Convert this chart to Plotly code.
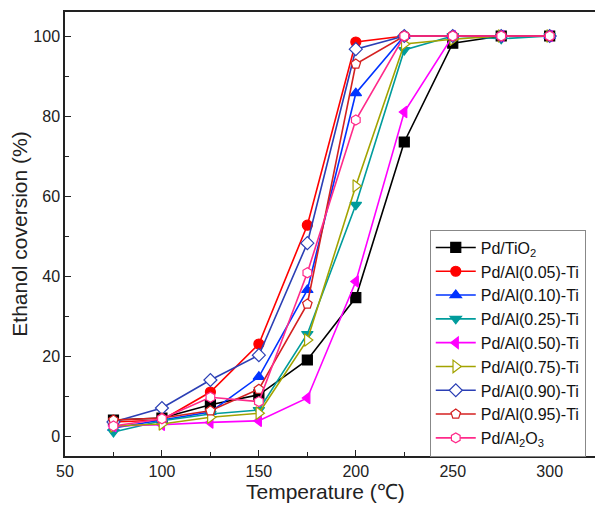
import plotly.graph_objects as go

temps = [75, 100, 125, 150, 175, 200, 225, 250, 275, 300]

names = ["Pd/TiO<sub>2</sub>", "Pd/Al(0.05)-Ti", "Pd/Al(0.10)-Ti", "Pd/Al(0.25)-Ti",
         "Pd/Al(0.50)-Ti", "Pd/Al(0.75)-Ti", "Pd/Al(0.90)-Ti", "Pd/Al(0.95)-Ti",
         "Pd/Al<sub>2</sub>O<sub>3</sub>"]

tio2 = [4.0, 4.5, 7.8, 10.3, 19.0, 34.6, 73.5, 98.2, 100, 100]
al005 = [3.5, 4.0, 11.0, 23.0, 52.7, 98.5, 100, 100, 100, 100]
al010 = [2.0, 4.0, 6.0, 14.8, 36.5, 85.7, 100, 100, 100, 100]
al025 = [1.0, 3.8, 5.5, 6.5, 25.5, 57.8, 96.5, 100, 99.3, 100]
al050 = [2.5, 2.8, 3.4, 3.8, 9.5, 38.6, 81.0, 100, 100, 100]
al075 = [2.5, 3.0, 4.7, 5.7, 24.0, 62.5, 98.0, 99.2, 100, 100]
al090 = [3.5, 7.0, 14.0, 20.2, 48.2, 96.7, 100, 100, 100, 100]
al095 = [4.0, 4.5, 6.3, 11.7, 33.0, 93.0, 100, 100, 100, 100]
al2o3 = [2.5, 4.3, 9.7, 8.6, 40.8, 79.0, 100, 100, 100, 100]

series = [tio2, al005, al010, al025, al050, al075, al090, al095, al2o3]
colors = ["#000000", "#FF0000", "#0033FF", "#009C9C", "#FF00FF", "#A3A300",
          "#2B3FB5", "#D42020", "#FF2A8A"]
symbols = ["square", "circle", "triangle-up", "triangle-down", "triangle-left",
           "triangle-right", "diamond", "pentagon", "hexagon"]
filled = [True, True, True, True, True, False, False, False, False]

x_title = "Temperature (℃)"
y_title = "Ethanol coversion (%)"

fig = go.Figure()
for n, ys, c, s, f in zip(names, series, colors, symbols, filled):
    fig.add_trace(go.Scatter(
        x=temps, y=ys, name=n, mode="lines+markers",
        line=dict(color=c, width=1.6),
        marker=dict(symbol=s, size=10 if s != "triangle-right" else 11,
                    color=c if f else "white",
                    line=dict(color=c, width=1.2)),
    ))

fig.update_layout(
    width=595, height=499,
    margin=dict(l=57, r=0, t=4, b=51),
    paper_bgcolor="white", plot_bgcolor="white",
    font=dict(family="Liberation Sans, Arial, sans-serif", size=16, color="#222222"),
    legend=dict(
        x=0.678, y=0.51, xanchor="left", yanchor="top",
        bordercolor="#888888", borderwidth=1, bgcolor="white",
        font=dict(size=16, color="#111111"),
        tracegroupgap=0, itemwidth=40,
    ),
    showlegend=True,
    annotations=[dict(
        text=x_title, xref="paper", yref="paper", x=0.485, y=0,
        xanchor="center", yanchor="middle", yshift=-35, showarrow=False,
        font=dict(size=21, color="#222222"),
    )],
)
fig.update_xaxes(
    range=[50, 327.5], dtick=50, tick0=50, automargin=False,
    showline=True, linecolor="#222222", linewidth=1.5, mirror=True,
    ticks="inside", ticklen=6, tickcolor="#222222", showgrid=False, zeroline=False,
    minor=dict(ticks="inside", ticklen=4, dtick=25, tick0=50, tickcolor="#222222"),
)
fig.update_yaxes(
    range=[-5, 106], dtick=20, tick0=0, automargin=False,
    showline=True, linecolor="#222222", linewidth=1.5, mirror=False,
    ticks="inside", ticklen=6, tickcolor="#222222", showgrid=False, zeroline=False,
    minor=dict(ticks="inside", ticklen=4, dtick=10, tick0=0, tickcolor="#222222"),
    title=dict(text=y_title, font=dict(size=21), standoff=10),
)

fig.write_html("out.html")
